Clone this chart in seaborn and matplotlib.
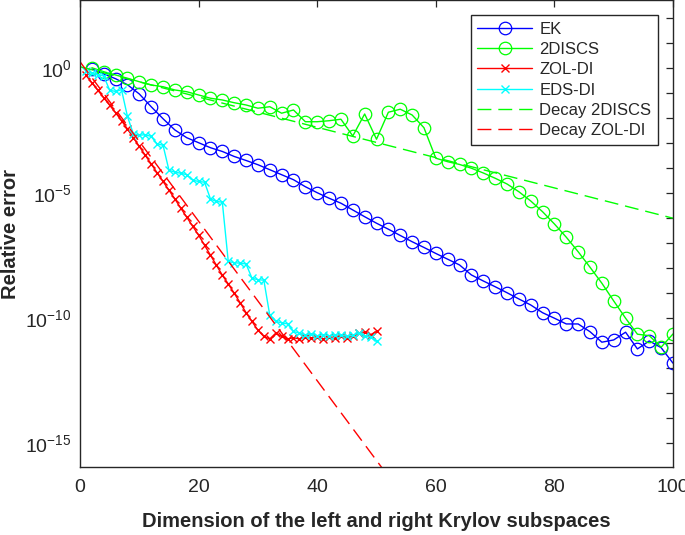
import numpy as np
import pandas as pd
import matplotlib
matplotlib.use('Agg')
import matplotlib.pyplot as plt
import seaborn as sns
from matplotlib.ticker import FixedLocator, FixedFormatter, NullFormatter

# Data (values as log10 of the relative error)
k_even = list(range(2, 101, 2))
k_all = list(range(1, 51))

ek_log10 = [-0.05, -0.25, -0.44, -0.68, -1.05, -1.56, -2.04, -2.49, -2.80, -3.00,
            -3.20, -3.35, -3.55, -3.71, -3.88, -4.08, -4.28, -4.48, -4.76, -5.00,
            -5.22, -5.42, -5.69, -5.96, -6.22, -6.46, -6.71, -6.96, -7.19, -7.43,
            -7.66, -7.89, -8.29, -8.53, -8.76, -9.00, -9.25, -9.49, -9.80, -10.02,
            -10.25, -10.25, -10.56, -10.98, -10.89, -10.58, -11.25, -10.93, -11.20, -11.82]

discs_log10 = [0.00, -0.16, -0.29, -0.42, -0.56, -0.69, -0.76, -0.89, -0.96, -1.09,
               -1.22, -1.29, -1.40, -1.49, -1.62, -1.56, -1.82, -1.69, -2.16, -2.16,
               -2.12, -2.06, -2.73, -1.85, -2.86, -1.78, -1.66, -1.89, -2.40, -3.62,
               -3.76, -3.87, -4.02, -4.21, -4.42, -4.65, -4.96, -5.33, -5.76, -6.25,
               -6.78, -7.36, -7.98, -8.62, -9.33, -10.02, -10.66, -10.72, -11.18, -10.65]

zol_log10 = [-0.30, -0.60, -0.90, -1.20, -1.50, -1.80, -2.12, -2.45, -2.80, -3.15,
             -3.50, -3.85, -4.20, -4.55, -4.90, -5.25, -5.62, -5.98, -6.34, -6.70,
             -7.10, -7.50, -7.90, -8.30, -8.65, -9.02, -9.40, -9.80, -10.15, -10.50,
             -10.75, -10.85, -10.62, -10.75, -10.85, -10.80, -10.85, -10.78, -10.82, -10.76,
             -10.84, -10.78, -10.82, -10.72, -10.80, -10.75, -10.62, -10.58, -10.68, -10.55]

eds_log10 = [-0.15, -0.22, -0.28, -0.33, -0.90, -0.95, -0.88, -1.95, -2.65, -2.70,
             -2.68, -2.75, -3.05, -3.10, -4.10, -4.18, -4.22, -4.28, -4.50, -4.55,
             -4.58, -5.25, -5.35, -5.38, -7.75, -7.80, -7.82, -7.85, -8.42, -8.48,
             -8.50, -9.90, -10.15, -10.20, -10.25, -10.55, -10.62, -10.70, -10.65, -10.72,
             -10.68, -10.72, -10.70, -10.68, -10.75, -10.70, -10.62, -10.72, -10.78, -10.95]

decay_discs_k = [0, 100]
decay_discs_log10 = [0.04, -6.02]
decay_zol_k = [0, 52]
decay_zol_log10 = [0.24, -16.35]

series = [
    ('EK', k_even, ek_log10, 'blue', 'o'),
    ('2DISCS', k_even, discs_log10, 'lime', 'o'),
    ('ZOL-DI', k_all, zol_log10, 'red', 'x'),
    ('EDS-DI', k_all, eds_log10, 'cyan', 'x'),
]
decays = [
    ('Decay 2DISCS', decay_discs_k, decay_discs_log10, 'lime'),
    ('Decay ZOL-DI', decay_zol_k, decay_zol_log10, 'red'),
]

sns.set_theme(style='white')
plt.rcParams['font.family'] = ['Liberation Sans', 'DejaVu Sans']
plt.rcParams['mathtext.fontset'] = 'custom'
plt.rcParams['mathtext.rm'] = 'Liberation Sans'
plt.rcParams['mathtext.it'] = 'Liberation Sans:italic'
plt.rcParams['mathtext.bf'] = 'Liberation Sans:bold'

fig = plt.figure(figsize=(6.85, 5.35), dpi=100)
ax = fig.add_axes([0.1168, 0.1277, 0.8657, 0.8714])

for name, k, vals, color, mk in series:
    df = pd.DataFrame({'k': k, 'err': np.power(10.0, vals)})
    if mk == 'o':
        sns.lineplot(data=df, x='k', y='err', ax=ax, color=color, lw=1.0,
                     marker='o', markersize=9, markerfacecolor='none',
                     markeredgecolor=color, markeredgewidth=0.9, label=name)
    else:
        sns.lineplot(data=df, x='k', y='err', ax=ax, color=color, lw=1.0,
                     marker='x', markersize=6, markeredgecolor=color,
                     markeredgewidth=1.0, label=name)

for name, k, vals, color in decays:
    df = pd.DataFrame({'k': k, 'err': np.power(10.0, vals)})
    sns.lineplot(data=df, x='k', y='err', ax=ax, color=color, lw=1.0,
                 linestyle=(0, (10, 5)), label=name)

ax.set_yscale('log')
ax.set_xlim(0, 100)
ax.set_ylim(10 ** -15.96, 10 ** 2.69)

ax.xaxis.set_major_locator(FixedLocator([0, 20, 40, 60, 80, 100]))
ax.yaxis.set_major_locator(FixedLocator([1e-15, 1e-10, 1e-5, 1e0]))
ax.yaxis.set_major_formatter(FixedFormatter([r'$10^{-15}$', r'$10^{-10}$', r'$10^{-5}$', r'$10^{0}$']))
ax.yaxis.set_minor_locator(FixedLocator([10.0 ** e for e in range(-16, 3)]))
ax.yaxis.set_minor_formatter(NullFormatter())

ax.tick_params(which='both', direction='in', top=True, right=True,
               length=5, width=0.9, color='0.15', labelsize=14)
ax.tick_params(axis='x', pad=9)
ax.tick_params(axis='y', pad=6)
for sp in ax.spines.values():
    sp.set_linewidth(1.0)
    sp.set_color('0.15')

ax.set_xlabel('Dimension of the left and right Krylov subspaces',
              fontsize=14.5, fontweight='bold')
ax.set_ylabel('Relative error', fontsize=14.5, fontweight='bold')
ax.xaxis.set_label_coords(0.5, -0.118, transform=ax.transAxes)
ax.yaxis.set_label_coords(-0.117, 0.5, transform=ax.transAxes)
ax.xaxis.label.set_va('center')
ax.yaxis.label.set_va('center')

leg = ax.legend(loc='upper left', bbox_to_anchor=(0.659, 0.969), borderaxespad=0,
                fontsize=12, handlelength=3.3, labelspacing=0.32, borderpad=0.4,
                handletextpad=0.4, fancybox=False, framealpha=1, edgecolor='0.15')
leg.get_frame().set_linewidth(1.0)

fig.savefig('out.png', dpi=100)
